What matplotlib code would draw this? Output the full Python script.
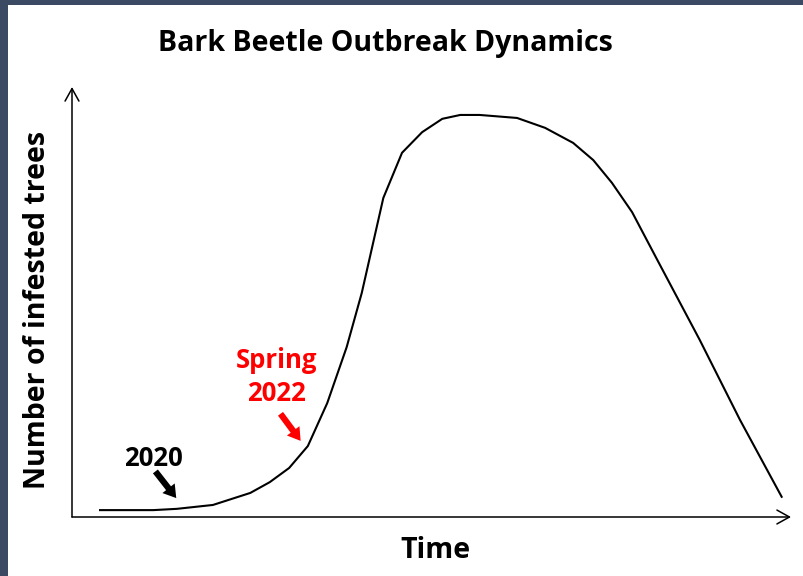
import matplotlib
matplotlib.use("Agg")
import matplotlib.pyplot as plt
from matplotlib.patches import Rectangle

plt.rcParams['font.family'] = ['Open Sans', 'DejaVu Sans']

# curve (time and tree counts in arbitrary units, 0-100)
time_pts = [3.9, 11.3, 14.6, 19.6, 24.8, 27.5, 30.2, 32.8, 35.5, 38.2, 40.3,
            43.3, 45.9, 48.7, 51.5, 54.0, 56.7, 61.9, 65.8, 69.7, 72.5, 75.1,
            77.9, 81.4, 87.3, 92.9, 98.7]
infested = [1.6, 1.6, 1.9, 2.8, 5.6, 8.1, 11.4, 16.5, 26.5, 39.5, 52.1,
            74.2, 84.7, 89.5, 92.6, 93.5, 93.5, 92.8, 90.5, 87.0, 83.0, 77.7,
            70.9, 59.8, 41.2, 22.6, 4.7]

# annotations: (label, text position, arrow tail, arrow tip, colour)
labels = ["2020", "Spring\n2022"]
label_pos = [(11.3, 13.7), (28.4, 32.6)]
arrow_tail = [(11.6, 10.6), (29.0, 24.0)]
arrow_tip = [(14.5, 4.4), (31.8, 17.7)]
label_colors = ["black", "red"]

fig = plt.figure(figsize=(8.04, 5.76), dpi=100, facecolor="white")
# dark frame on the top and left edges
frame = "#3b4a62"
fig.patches.append(Rectangle((0, 0), 8 / 804, 1, transform=fig.transFigure,
                             facecolor=frame, edgecolor="none"))
fig.patches.append(Rectangle((0, 1 - 5 / 576), 1, 5 / 576, transform=fig.transFigure,
                             facecolor=frame, edgecolor="none"))

ax = fig.add_axes([72 / 804, 59 / 576, 719 / 804, 430 / 576])
ax.set_facecolor("none")
ax.plot(time_pts, infested, color="black", lw=1.5)
ax.set_xlim(0, 100)
ax.set_ylim(0, 100)
for s in ax.spines.values():
    s.set_visible(False)
ax.set_xticks([])
ax.set_yticks([])

# axis arrows
arr = dict(arrowstyle="->,head_length=0.9,head_width=0.5", lw=1.1,
           color="black", shrinkA=0, shrinkB=0)
ax.annotate("", xy=(1, 0), xytext=(0, 0), xycoords="axes fraction",
            arrowprops=arr, annotation_clip=False)
ax.annotate("", xy=(0, 1), xytext=(0, 0), xycoords="axes fraction",
            arrowprops=arr, annotation_clip=False)

for lab, pos, tail, tip, col in zip(labels, label_pos, arrow_tail, arrow_tip, label_colors):
    ax.text(pos[0], pos[1], lab, color=col, fontsize=18.5, fontweight="bold",
            ha="center", va="center", linespacing=1.3)
    ax.annotate("", xy=tip, xytext=tail,
                arrowprops=dict(arrowstyle="simple,head_length=0.6,head_width=0.75,tail_width=0.3",
                                lw=0, color=col, mutation_scale=15,
                                shrinkA=0, shrinkB=0))

fig.text(385 / 804, 1 - 43 / 576, "Bark Beetle Outbreak Dynamics",
         fontsize=20.5, fontweight="bold", ha="center", va="center")
fig.text(38 / 804, 1 - 310 / 576, "Number of infested trees", fontsize=20.5,
         fontweight="bold", rotation=90, ha="center", va="center")
fig.text(435 / 804, 1 - 551 / 576, "Time", fontsize=20.5, fontweight="bold",
         ha="center", va="center")

fig.savefig("out.png", dpi=100)
